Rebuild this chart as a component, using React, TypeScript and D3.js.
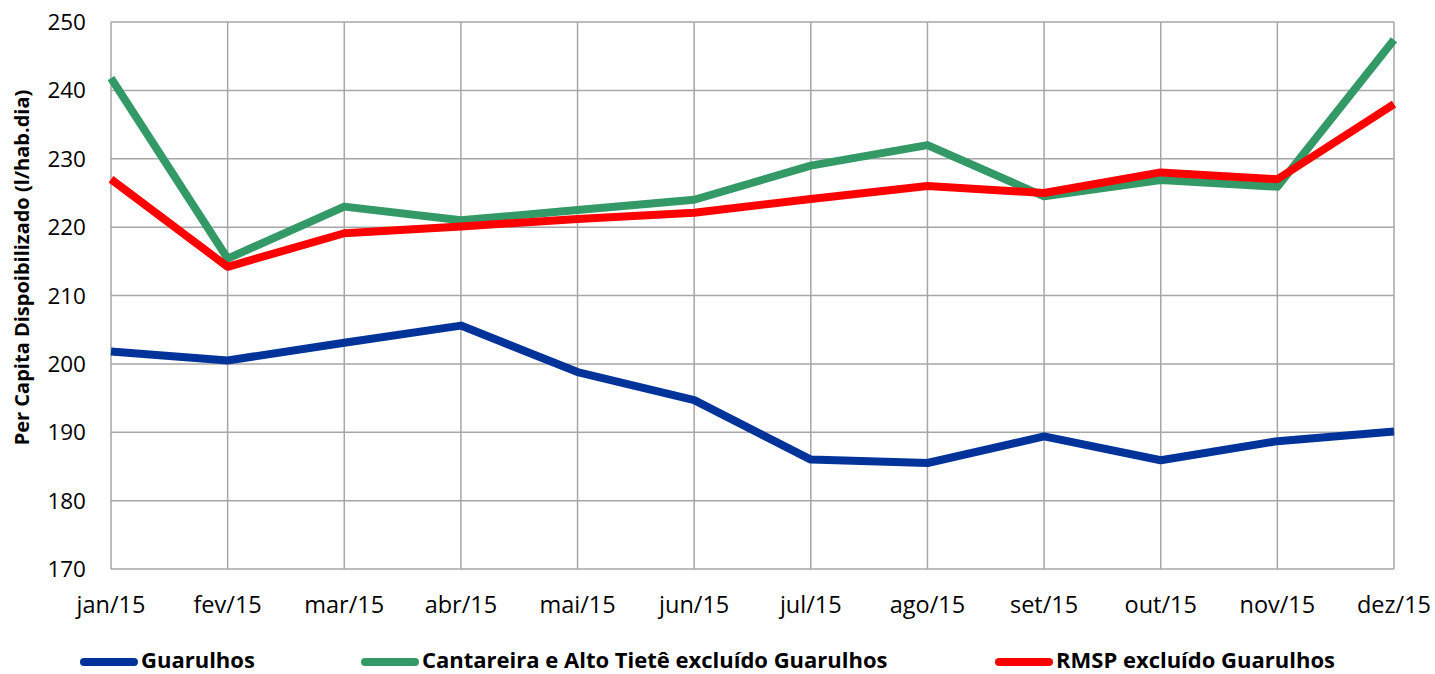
import { useEffect, useRef } from 'react';
import * as d3 from 'd3';

const months = ['jan/15', 'fev/15', 'mar/15', 'abr/15', 'mai/15', 'jun/15', 'jul/15', 'ago/15', 'set/15', 'out/15', 'nov/15', 'dez/15'];
const guarulhos = [201.8, 200.5, 203.1, 205.6, 198.8, 194.7, 186.0, 185.5, 189.4, 185.9, 188.7, 190.1];
const cantareira = [241.8, 215.4, 223.0, 221.0, 222.5, 224.0, 229.0, 232.0, 224.5, 226.9, 225.9, 247.4];
const rmsp = [227.0, 214.2, 219.1, 220.1, 221.2, 222.1, 224.1, 226.0, 225.0, 228.0, 227.0, 238.0];
const yTicks = [170, 180, 190, 200, 210, 220, 230, 240, 250];
const seriesNames = ['Guarulhos', 'Cantareira e Alto Tietê excluído Guarulhos', 'RMSP excluído Guarulhos'];
const colors = ['#003399', '#339966', '#ff0000'];

const W = 1435;
const H = 674;
const FONT = '"Open Sans", sans-serif';

export default function App() {
  const ref = useRef<SVGSVGElement>(null);

  useEffect(() => {
    const svg = d3.select(ref.current);
    svg.selectAll('*').remove();

    const left = 111;
    const right = 1394;
    const top = 22;
    const bottom = 569;

    const x = d3.scalePoint<string>().domain(months).range([left, right]);
    const y = d3.scaleLinear().domain([170, 250]).range([bottom, top]);

    // grid
    const grid = svg.append('g').attr('stroke', '#a6a6a6').attr('stroke-width', 1.5);
    grid.selectAll('line.h')
      .data(yTicks)
      .join('line')
      .attr('x1', left)
      .attr('x2', right)
      .attr('y1', d => y(d))
      .attr('y2', d => y(d));
    grid.selectAll('line.v')
      .data(months)
      .join('line')
      .attr('x1', d => x(d)!)
      .attr('x2', d => x(d)!)
      .attr('y1', top)
      .attr('y2', bottom);

    // y labels
    svg.append('g')
      .selectAll('text')
      .data(yTicks)
      .join('text')
      .attr('x', 86)
      .attr('y', d => y(d) + 8)
      .attr('text-anchor', 'end')
      .attr('font-family', FONT)
      .attr('font-size', 22.5)
      .attr('fill', '#000')
      .text(d => d);

    // x labels
    svg.append('g')
      .selectAll('text')
      .data(months)
      .join('text')
      .attr('x', d => x(d)!)
      .attr('y', 613)
      .attr('text-anchor', 'middle')
      .attr('font-family', FONT)
      .attr('font-size', 23.5)
      .attr('fill', '#000')
      .text(d => d);

    // y title
    svg.append('text')
      .attr('transform', `translate(29,${(top + bottom) / 2 - 28}) rotate(-90)`)
      .attr('text-anchor', 'middle')
      .attr('font-family', FONT)
      .attr('font-weight', 'bold')
      .attr('font-size', 20)
      .attr('fill', '#000')
      .text('Per Capita Dispoibilizado (l/hab.dia)');

    // lines
    const line = d3.line<number>()
      .x((_, i) => x(months[i])!)
      .y(d => y(d));
    [guarulhos, cantareira, rmsp].forEach((vals, i) => {
      svg.append('path')
        .datum(vals)
        .attr('d', line)
        .attr('fill', 'none')
        .attr('stroke', colors[i])
        .attr('stroke-width', 8)
        .attr('stroke-linejoin', 'round');
    });

    // legend
    const legendX = [80, 361, 995];
    const ly = 662;
    const lg = svg.append('g');
    seriesNames.forEach((name, i) => {
      lg.append('line')
        .attr('x1', legendX[i] + 4)
        .attr('x2', legendX[i] + 54)
        .attr('y1', ly)
        .attr('y2', ly)
        .attr('stroke', colors[i])
        .attr('stroke-width', 8)
        .attr('stroke-linecap', 'round');
      lg.append('text')
        .attr('x', legendX[i] + 61)
        .attr('y', 668)
        .attr('font-family', FONT)
        .attr('font-weight', 'bold')
        .attr('font-size', 22)
        .attr('fill', '#000')
        .text(name);
    });
  }, []);

  return <svg ref={ref} width={W} height={H} style={{ position: 'absolute', left: 0, top: 0 }} />;
}
